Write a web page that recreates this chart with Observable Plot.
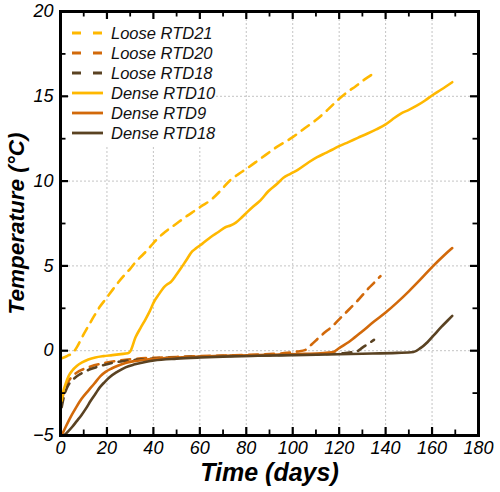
<!DOCTYPE html>
<html>
<head>
<meta charset="utf-8">
<script src="https://cdn.jsdelivr.net/npm/d3@7"></script>
<script src="https://cdn.jsdelivr.net/npm/@observablehq/plot@0.6"></script>
<style>
  html, body { margin: 0; padding: 0; background: #fff; }
  #chart { width: 500px; height: 492px; }
</style>
</head>
<body>
<div id="chart"></div>
<script>
// ---- data (day, °C) ----
const looseRTD21 = [[0.5,-0.45],[3,-0.3],[5.5,-0.1],[7,0.2],[9.5,0.85],[12,1.45],[14.5,2.05],[17,2.6],[19.5,3.05],[22.5,3.6],[25,4.05],[27.5,4.45],[30,4.83],[32.5,5.25],[35,5.6],[37.5,5.95],[40,6.35],[42.5,6.7],[45,7.0],[48,7.3],[51,7.6],[54.5,7.95],[58,8.27],[61,8.55],[64.5,8.86],[69,9.45],[73,10.04],[76.5,10.4],[80,10.72],[86,11.31],[93,12.0],[100,12.59],[105,13.1],[110,13.6],[115,14.2],[120,14.85],[124,15.3],[127,15.58],[131,16.0],[135,16.36]];
const looseRTD20 = [[0.5,-3.0],[1.5,-2.4],[3,-1.9],[4.5,-1.6],[6,-1.4],[8,-1.2],[10,-1.08],[13,-0.93],[16.5,-0.8],[20,-0.7],[24,-0.6],[28,-0.53],[32,-0.48],[40,-0.42],[50,-0.37],[60,-0.32],[75,-0.27],[90,-0.2],[97.6,-0.13],[102,-0.05],[105.5,0.05],[108,0.35],[111.2,0.76],[114,1.1],[117,1.43],[120,1.85],[124,2.4],[128,2.96],[132.8,3.7],[135,4.0],[137.8,4.4]];
const looseRTD18 = [[0.5,-3.33],[1.5,-2.7],[2.9,-2.15],[4.3,-1.85],[5.7,-1.66],[8,-1.42],[10,-1.27],[13,-1.08],[16.5,-0.93],[20,-0.8],[23.8,-0.68],[28,-0.6],[32.3,-0.54],[40,-0.46],[50,-0.4],[60,-0.35],[75,-0.3],[90,-0.26],[105,-0.22],[115,-0.19],[122,-0.15],[126,-0.08],[127.8,-0.03],[130,0.18],[133.5,0.5],[135,0.64]];
const denseRTD10 = [[0.5,-2.95],[1.2,-2.4],[2.2,-1.96],[3.5,-1.5],[5,-1.18],[7,-0.9],[9.3,-0.69],[12,-0.52],[15,-0.4],[18.5,-0.32],[22.3,-0.26],[26,-0.2],[29,-0.15],[30,-0.05],[32.3,0.79],[34.5,1.35],[36.6,1.85],[38.5,2.35],[40.2,2.86],[42.5,3.35],[44.5,3.74],[46,3.92],[47.5,4.05],[49.5,4.4],[51.7,4.83],[54,5.3],[56.7,5.85],[58.5,6.05],[61,6.3],[64.6,6.69],[68,7.0],[71,7.28],[73.2,7.38],[75.5,7.55],[78,7.85],[80.4,8.17],[83,8.5],[86.1,8.86],[89.5,9.4],[93.3,9.84],[96,10.2],[99,10.43],[102,10.65],[106.9,11.11],[110.5,11.41],[114,11.65],[117,11.85],[120,12.06],[124,12.3],[128,12.55],[132,12.79],[136,13.05],[140,13.34],[143,13.65],[146.4,13.97],[150,14.2],[153.6,14.46],[157,14.75],[160,15.05],[164,15.4],[168.7,15.83]];
const denseRTD9 = [[0.5,-5],[2.2,-4.5],[4,-4.0],[6.5,-3.4],[9,-2.85],[12,-2.35],[14.5,-1.95],[17.2,-1.5],[19.4,-1.25],[22,-1.05],[24.4,-0.9],[28,-0.72],[31.6,-0.62],[36,-0.54],[40.2,-0.48],[50,-0.4],[60.3,-0.34],[70,-0.3],[82,-0.27],[95,-0.22],[105,-0.19],[112,-0.15],[117,-0.1],[120,0.15],[125,0.6],[130,1.15],[135,1.72],[140,2.25],[145,2.85],[150,3.5],[155,4.2],[160,4.93],[165,5.6],[168.7,6.05]];
const denseRTD18 = [[1.5,-5],[3,-4.8],[5,-4.5],[7,-4.15],[9,-3.8],[11,-3.4],[13,-2.95],[15,-2.55],[17,-2.15],[19,-1.85],[21,-1.58],[24.4,-1.25],[28,-0.98],[31.6,-0.82],[36,-0.68],[40.2,-0.58],[50,-0.47],[60.3,-0.4],[70,-0.35],[85,-0.3],[100,-0.26],[115,-0.22],[130,-0.18],[145,-0.13],[152,-0.08],[155,0.15],[158,0.5],[161,0.95],[164,1.4],[166.5,1.75],[168.7,2.05]];

const seriesNames = ["Loose RTD21","Loose RTD20","Loose RTD18","Dense RTD10","Dense RTD9","Dense RTD18"];
const seriesData  = [looseRTD21, looseRTD20, looseRTD18, denseRTD10, denseRTD9, denseRTD18];
const seriesColors = ["#FFB800","#D2690A","#5A4222","#FFB800","#D2690A","#5A4222"];
const seriesDashed = [true, true, true, false, false, false];

const xTicks = [0,20,40,60,80,100,120,140,160,180];
const xMinor = [10,30,50,70,90,110,130,150,170];
const yTicks = [-5,0,5,10,15,20];
const yMinor = [-2.5,2.5,7.5,12.5,17.5];
const xGrid = [20,40,60,80,100,120,140,160];
const yGrid = [0,5,10,15];

(function () {
// ---- layout ----
const W = 500, H = 492;
const mL = 60, mR = 22, mT = 11, mB = 57;
const font = "'Liberation Sans', Arial, Helvetica, sans-serif";
const DASH = "9,7";
const xDom = [0, 180], yDom = [-5, 20];
const pw = W - mL - mR, ph = H - mT - mB;
// tick lengths (pixels) converted into data units of each axis
const kx = (xDom[1] - xDom[0]) / pw, ky = (yDom[1] - yDom[0]) / ph;
const MAJ = 8, MIN = 5.5;

const rows = [];
seriesData.forEach((arr, i) => arr.forEach(([d, t]) => rows.push({series: seriesNames[i], day: d, temp: t, idx: i})));

const lineMarks = seriesData.map((arr, i) =>
  Plot.line(rows.filter(r => r.idx === i), {
    x: "day", y: "temp",
    stroke: seriesColors[i], strokeWidth: 2.6,
    strokeDasharray: seriesDashed[i] ? DASH : null,
    strokeLinejoin: "round", curve: "monotone-x"
  })
);

const TC = "#000";
const tickMarks = [
  Plot.ruleX(xTicks, {x: d => d, y1: yDom[0], y2: yDom[0] + MAJ * ky, stroke: TC, strokeWidth: 2.2}),
  Plot.ruleX(xTicks, {x: d => d, y1: yDom[1] - MAJ * ky, y2: yDom[1], stroke: TC, strokeWidth: 2.2}),
  Plot.ruleX(xMinor, {x: d => d, y1: yDom[0], y2: yDom[0] + MIN * ky, stroke: TC, strokeWidth: 1.8}),
  Plot.ruleX(xMinor, {x: d => d, y1: yDom[1] - MIN * ky, y2: yDom[1], stroke: TC, strokeWidth: 1.8}),
  Plot.ruleY(yTicks, {y: d => d, x1: xDom[0], x2: xDom[0] + MAJ * kx, stroke: TC, strokeWidth: 2.2}),
  Plot.ruleY(yTicks, {y: d => d, x1: xDom[1] - MAJ * kx, x2: xDom[1], stroke: TC, strokeWidth: 2.2}),
  Plot.ruleY(yMinor, {y: d => d, x1: xDom[0], x2: xDom[0] + MIN * kx, stroke: TC, strokeWidth: 1.8}),
  Plot.ruleY(yMinor, {y: d => d, x1: xDom[1] - MIN * kx, x2: xDom[1], stroke: TC, strokeWidth: 1.8})
];

const svg = Plot.plot({
  width: W, height: H,
  marginLeft: mL, marginRight: mR, marginTop: mT, marginBottom: mB,
  style: {fontFamily: font, background: "#fff", overflow: "visible"},
  x: {domain: xDom, label: null},
  y: {domain: yDom, label: null},
  marks: [
    Plot.ruleX(xGrid, {stroke: "#c4c4c4", strokeWidth: 1, strokeDasharray: "2,2"}),
    Plot.ruleY(yGrid, {stroke: "#c4c4c4", strokeWidth: 1, strokeDasharray: "2,2"}),
    ...lineMarks,
    Plot.frame({stroke: "#000", strokeWidth: 3}),
    ...tickMarks,
    Plot.axisX({ticks: xTicks, tickSize: 0, tickPadding: 6, fontSize: 18, fontStyle: "italic", fill: "#000", label: null}),
    Plot.axisY({ticks: yTicks, tickSize: 0, tickPadding: 7, fontSize: 18, fontStyle: "italic", fill: "#000", label: null}),
    Plot.text(["Time (days)"], {frameAnchor: "bottom", dy: 45, fontSize: 25, fontWeight: "bold", fontStyle: "italic", fill: "#000", textAnchor: "middle"}),
    Plot.text(["Temperature (°C)"], {frameAnchor: "left", dx: -44, rotate: -90, textAnchor: "middle", fontSize: 22.5, fontWeight: "bold", fontStyle: "italic", fill: "#000"})
  ]
});

// ---- legend (inside plot, top-left, white box) ----
const g = d3.select(svg).append("g").attr("class", "legend");
g.append("rect").attr("x", 69).attr("y", 19).attr("width", 141).attr("height", 126).attr("fill", "#fff");
seriesNames.forEach((name, i) => {
  const y = 33 + 20 * i;
  g.append("line").attr("x1", 72).attr("x2", 103).attr("y1", y).attr("y2", y)
    .attr("stroke", seriesColors[i]).attr("stroke-width", 2.8)
    .attr("stroke-dasharray", seriesDashed[i] ? "9,12" : null);
  g.append("text").attr("x", 111).attr("y", y).attr("dy", "0.35em")
    .attr("text-anchor", "start")
    .attr("font-family", font).attr("font-size", 16.5).attr("font-style", "italic")
    .attr("fill", "#111").text(name);
});

document.getElementById("chart").appendChild(svg);
})();
</script>
</body>
</html>
